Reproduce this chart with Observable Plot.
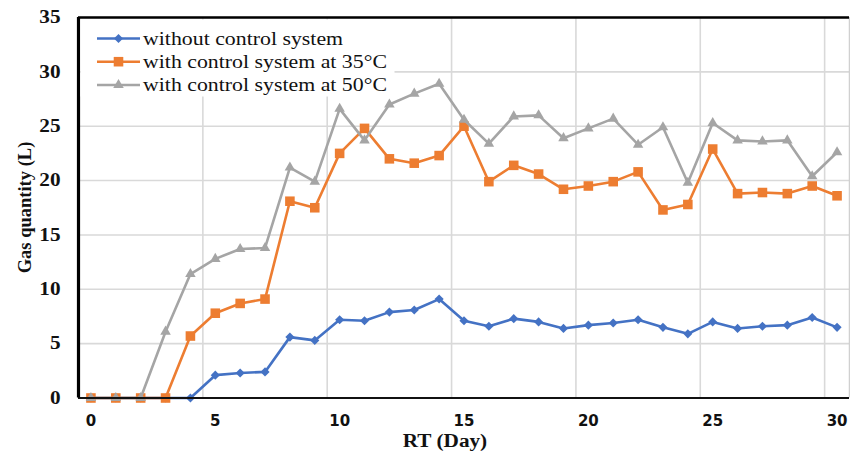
<!DOCTYPE html>
<html><head><meta charset="utf-8">
<script src="https://cdn.jsdelivr.net/npm/d3@7"></script>
<script src="https://cdn.jsdelivr.net/npm/@observablehq/plot@0.6"></script>
<style>body{margin:0;background:#fff;} svg{display:block;}</style>
</head><body><div id="chart"></div>
<script>
const days = [0,1,2,3,4,5,6,7,8,9,10,11,12,13,14,15,16,17,18,19,20,21,22,23,24,25,26,27,28,29,30];
const withoutControl = [0,0,0,0,0,2.1,2.3,2.4,5.6,5.3,7.2,7.1,7.9,8.1,9.1,7.1,6.6,7.3,7.0,6.4,6.7,6.9,7.2,6.5,5.9,7.0,6.4,6.6,6.7,7.4,6.5];
const control35 = [0,0,0,0,5.7,7.8,8.7,9.1,18.1,17.5,22.5,24.8,22.0,21.6,22.3,25.0,19.9,21.4,20.6,19.2,19.5,19.9,20.8,17.3,17.8,22.9,18.8,18.9,18.8,19.5,18.6];
const control50 = [0,0,0,6.1,11.4,12.8,13.7,13.8,21.2,19.9,26.6,23.7,27.0,28.0,28.9,25.6,23.4,25.9,26.0,23.9,24.8,25.7,23.3,24.9,19.8,25.3,23.7,23.6,23.7,20.4,22.6];
const seriesNames = ["without control system","with control system at 35\u00B0C","with control system at 50\u00B0C"];
const seriesColors = ["#4472C4","#ED7D31","#A5A5A5"];
const seriesSymbols = ["diamond2","square","triangle"];
const seriesR = [4.1,5.4,3.9];
const xTicks = [0,5,10,15,20,25,30];
const yTicks = [0,5,10,15,20,25,30,35];
const xGrid = [4.5,9.5,14.5,19.5,24.5,29.5];

const seriesValues = [withoutControl, control35, control50];
const tables = seriesValues.map(vals => days.map((d,i)=>({day:d, value:vals[i]})));

const marks = [
  Plot.gridY(yTicks, {y: d=>d, stroke:"#d9d9d9", strokeOpacity:1, strokeWidth:1.6}),
  Plot.gridX(xGrid, {x: d=>d, stroke:"#d9d9d9", strokeOpacity:1, strokeWidth:1.6}),
  Plot.ruleX([30.5], {stroke:"#d0d0d0", strokeWidth:1.5})
];
tables.forEach((t,i)=>{
  marks.push(Plot.line(t, {x:"day", y:"value", stroke:seriesColors[i], strokeWidth:2.6}));
  marks.push(Plot.dot(t, {x:"day", y:"value", symbol:seriesSymbols[i], fill:seriesColors[i], stroke:"none", r:seriesR[i]}));
});
marks.push(
  Plot.ruleY([0], {stroke:"#111", strokeWidth:2.2}),
  Plot.ruleY([35], {stroke:"#000", strokeWidth:2.6}),
  Plot.ruleX([-0.5], {stroke:"#000", strokeWidth:3.2}),
  Plot.axisX(xTicks, {tickSize:0, tickPadding:17.5, fontFamily:"DejaVu Sans", fontWeight:"bold", fontSize:15, fill:"#111", label:null}),
  Plot.axisY(yTicks, {tickSize:0, tickPadding:18, fontFamily:"Liberation Serif", fontWeight:"bold", fontSize:18, fill:"#111", label:null})
);

const chart = Plot.plot({
  width:850, height:454,
  marginLeft:78, marginRight:1, marginTop:17, marginBottom:56.5,
  x:{domain:[-0.5,30.5]},
  y:{domain:[0,35]},
  style:{background:"#fff", overflow:"visible"},
  marks
});
document.getElementById("chart").appendChild(chart);

const svg = d3.select(chart);
const k = 1.18;
function stretch(sel, f){
  sel.each(function(){
    const l = this.getComputedTextLength();
    this.setAttribute("textLength", l*f);
    this.setAttribute("lengthAdjust","spacingAndGlyphs");
  });
}
stretch(svg.selectAll('g[aria-label="y-axis tick label"] text'), k);

// axis titles
const xt = svg.append("text").attr("x",445).attr("y",447).attr("text-anchor","start")
  .attr("font-family","Liberation Serif").attr("font-weight","bold").attr("font-size",18).attr("fill","#111")
  .text("RT (Day)");
stretch(xt, k);
xt.attr("x", 445 - xt.node().getAttribute("textLength")/2);
svg.append("text").attr("transform","translate(31,207.5) rotate(-90)").attr("text-anchor","middle")
  .attr("font-family","Liberation Serif").attr("font-weight","bold").attr("font-size",18.5).attr("fill","#111")
  .text("Gas quantity (L)");

// legend
svg.append("rect").attr("x",80.5).attr("y",19.5).attr("width",314).attr("height",77).attr("fill","#fff");
const rowsY = [38.5, 61.7, 85];
const symMap = {diamond2:d3.symbolDiamond2, square:d3.symbolSquare, triangle:d3.symbolTriangle};
seriesNames.forEach((name,i)=>{
  const y = rowsY[i];
  svg.append("line").attr("x1",97).attr("x2",140).attr("y1",y).attr("y2",y)
    .attr("stroke",seriesColors[i]).attr("stroke-width",2.6);
  const r = seriesR[i];
  svg.append("path").attr("transform",`translate(118.5,${y})`)
    .attr("d", d3.symbol(symMap[seriesSymbols[i]], Math.PI*r*r)())
    .attr("fill",seriesColors[i]);
  const t = svg.append("text").attr("x",143).attr("y",y+6).attr("text-anchor","start")
    .attr("font-family","Liberation Serif").attr("font-size",18.5).attr("fill","#111")
    .text(name);
  stretch(t, k);
});
</script>
</body></html>
